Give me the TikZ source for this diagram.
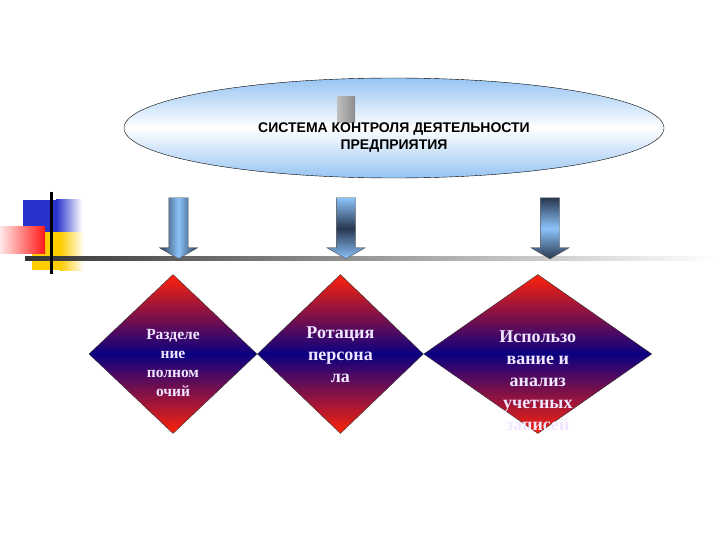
\documentclass[tikz,border=0pt]{standalone}
\usepackage{fontspec}
\setmainfont{Liberation Serif}
\newfontfamily\headfont{Liberation Sans}
\usepackage{tikz}
\usetikzlibrary{positioning,shapes,shapes.geometric,shapes.arrows}

\definecolor{skyb}{RGB}{150,196,242}
\definecolor{arrdark}{RGB}{40,55,80}
\definecolor{arrlight}{RGB}{140,195,250}
\definecolor{dred}{RGB}{255,35,10}
\definecolor{dnavy}{RGB}{10,0,130}
\definecolor{lav}{RGB}{240,230,255}
\definecolor{sqblue}{RGB}{40,50,205}
\definecolor{sqred}{RGB}{255,25,25}
\definecolor{sqyel}{RGB}{255,205,0}

\begin{document}
\begin{tikzpicture}[x=1pt, y=-1pt,
    oval/.style={%
      ellipse, draw=black, thin, minimum width=540pt, minimum height=100pt,
      top color=skyb, bottom color=skyb, middle color=white
    },
    ovaltext/.style={%
      font=\headfont\bfseries\fontsize{14}{17}\selectfont, align=center, inner sep=0pt
    },
    barrow/.style={%
      single arrow, rotate=-90, draw=black!70, thin, inner sep=9.5pt,
      single arrow head extend=9.5pt, single arrow tip angle=120, minimum height=61pt
    },
    dia/.style={%
      diamond, draw=black!80, thin, inner sep=0pt, minimum height=159pt,
      top color=dred, bottom color=dred, middle color=dnavy
    },
    dtext/.style={%
      text=lav, align=center, inner sep=0pt
    }
]
    \useasboundingbox (0,0) rectangle (720,540);

    % squares at the left
    \fill[sqblue] (23,200) rectangle (56,232);
    \shade[left color=sqblue, right color=white] (56,200) rectangle (82,232);
    \fill[sqyel] (32,232) rectangle (60,270);
    \shade[left color=sqyel, right color=white] (60,232) rectangle (84,270);
    \shade[left color=sqred!10, right color=sqred] (0,227) rectangle (45,253);
    \shade[left color=black!80, right color=white] (25,256) rectangle (716,260);
    \draw[line width=3pt] (51,192) -- (51,274);

    \node[oval] (sys) at (394,128) {};
    \fill[left color=black!25, right color=black!45] (337,97) rectangle (355,123);
    \node[ovaltext] (systxt) at ([yshift=-10pt]sys.center)
        {СИСТЕМА КОНТРОЛЯ ДЕЯТЕЛЬНОСТИ\\ПРЕДПРИЯТИЯ};

    \node[barrow, left color=arrdark, right color=arrdark, middle color=arrlight] (a1) at (178.5,225.5) {};
    \node[barrow, top color=arrlight, bottom color=arrlight, middle color=arrdark] (a2) at (346,225.5) {};
    \node[barrow, top color=arrdark, bottom color=arrdark, middle color=arrlight] (a3) at (550,225.5) {};

    \node[dia, minimum width=168pt] (d1) at (173,354) {};
    \node[dia, minimum width=166pt] (d2) [right = 0pt of d1] {};
    \node[dia, minimum width=228pt] (d3) [right = 0pt of d2] {};

    \node[dtext, font=\bfseries\fontsize{15.5}{18.7}\selectfont] (t1) at ([yshift=-9pt]d1.center)
        {Разделе\\ние\\полном\\очий};
    \node[dtext, font=\bfseries\fontsize{18}{22}\selectfont] (t2) at ([yshift=-1pt]d2.center)
        {Ротация\\персона\\ла};
    \node[dtext, font=\bfseries\fontsize{18}{22}\selectfont] (t3) at ([yshift=-27pt]d3.center)
        {Использо\\вание и\\анализ\\учетных\\записей};

\end{tikzpicture}
\end{document}
